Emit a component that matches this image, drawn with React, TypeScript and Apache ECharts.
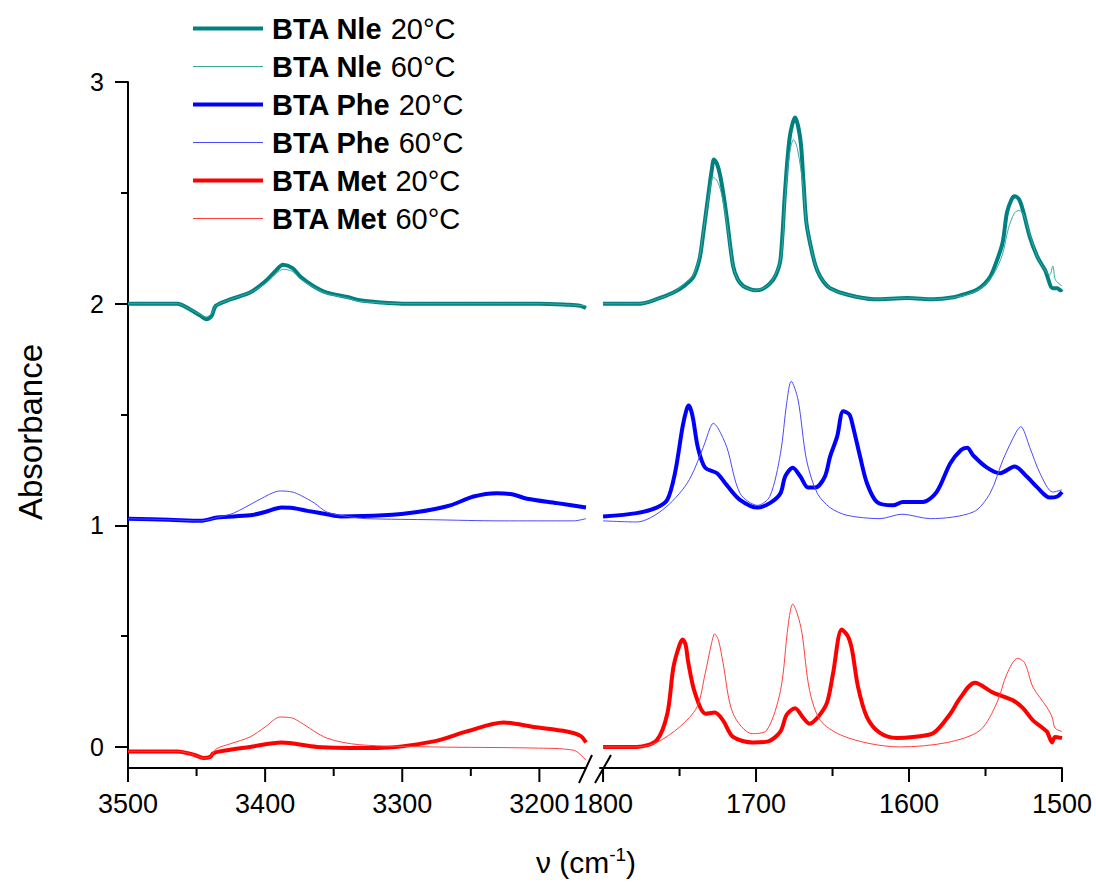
import React, { useEffect, useRef } from "react";
import * as echarts from "echarts";

// ---------- data: [wavenumber (cm-1), absorbance] ----------
const seriesNames = [
  "BTA Nle 20°C",
  "BTA Nle 60°C",
  "BTA Phe 20°C",
  "BTA Phe 60°C",
  "BTA Met 20°C",
  "BTA Met 60°C",
];

const nle20Left = [[3500,2.0],[3480,2.0],[3464,2.0],[3455,1.975],[3447,1.945],[3443,1.93],[3439,1.945],[3436,1.99],[3425,2.02],[3411,2.05],[3400,2.1],[3392,2.15],[3387,2.175],[3380,2.16],[3374,2.12],[3365,2.08],[3355,2.05],[3340,2.03],[3331,2.015],[3315,2.005],[3300,2.0],[3250,2.0],[3200,2.0],[3180,1.995],[3170,1.99],[3166,1.98]];
const nle60Left = [[3500,2.0],[3464,2.0],[3455,1.975],[3447,1.95],[3443,1.94],[3439,1.955],[3436,1.99],[3425,2.02],[3411,2.05],[3400,2.09],[3392,2.135],[3387,2.155],[3380,2.145],[3374,2.11],[3365,2.075],[3355,2.045],[3340,2.025],[3331,2.01],[3300,2.0],[3200,2.0],[3166,1.99]];
const nle20Right = [[1800,2.0],[1790,2.0],[1776,2.0],[1765,2.02],[1754,2.05],[1747,2.08],[1741,2.12],[1737,2.2],[1735,2.29],[1731,2.5],[1729,2.6],[1727.5,2.65],[1725.5,2.63],[1723.5,2.58],[1721,2.48],[1719,2.38],[1715,2.17],[1712,2.11],[1708.5,2.08],[1704,2.065],[1700.7,2.06],[1696,2.065],[1691,2.09],[1687,2.13],[1684,2.2],[1681,2.51],[1678,2.75],[1674.5,2.84],[1671,2.74],[1669,2.55],[1667,2.36],[1663,2.22],[1660,2.15],[1656,2.1],[1651.6,2.07],[1640,2.04],[1623,2.02],[1601,2.025],[1584,2.02],[1570,2.03],[1565,2.04],[1558,2.055],[1553,2.075],[1548,2.11],[1545,2.15],[1539,2.27],[1536,2.41],[1533,2.47],[1531,2.485],[1528,2.47],[1525.5,2.42],[1521,2.3],[1516,2.21],[1511,2.15],[1506,2.07],[1503,2.07],[1501,2.06],[1500,2.065]];
const nle60Right = [[1800,2.0],[1776,2.0],[1765,2.02],[1754,2.05],[1747,2.09],[1741,2.13],[1737,2.21],[1735,2.3],[1731,2.48],[1728,2.57],[1726,2.56],[1723.5,2.52],[1721,2.44],[1719,2.36],[1715,2.17],[1712,2.11],[1708.5,2.08],[1700.7,2.06],[1691,2.09],[1684,2.2],[1681,2.48],[1678,2.68],[1675.5,2.74],[1673,2.7],[1669,2.52],[1667,2.36],[1660,2.15],[1651.6,2.07],[1640,2.04],[1623,2.02],[1601,2.025],[1584,2.02],[1565,2.035],[1553,2.07],[1545,2.13],[1539,2.22],[1535,2.34],[1531,2.41],[1528,2.42],[1525,2.4],[1521,2.31],[1516,2.21],[1510,2.14],[1508,2.13],[1506,2.17],[1504.5,2.11],[1502,2.09],[1500,2.08]];

const phe20Left = [[3500,1.03],[3470,1.025],[3447,1.02],[3435,1.035],[3411,1.045],[3400,1.06],[3388,1.08],[3380,1.078],[3369,1.065],[3355,1.05],[3345,1.04],[3314,1.045],[3289,1.06],[3265,1.09],[3248,1.13],[3231,1.145],[3220,1.14],[3209,1.12],[3187,1.1],[3166,1.08]];
const phe60Left = [[3500,1.03],[3470,1.025],[3447,1.02],[3435,1.035],[3423,1.055],[3406,1.11],[3395,1.145],[3389,1.155],[3380,1.15],[3374,1.135],[3364,1.1],[3355,1.06],[3340,1.04],[3326,1.03],[3277,1.025],[3228,1.02],[3175,1.02],[3166,1.03]];
const phe20Right = [[1800,1.04],[1778,1.055],[1765,1.08],[1758,1.115],[1753,1.235],[1748,1.445],[1745.5,1.52],[1744,1.54],[1742.5,1.52],[1741,1.475],[1738,1.35],[1733.3,1.26],[1725.5,1.235],[1719,1.18],[1710.5,1.115],[1699,1.08],[1691,1.1],[1684,1.145],[1681,1.22],[1676,1.26],[1671,1.22],[1666,1.17],[1661.4,1.17],[1655,1.22],[1651.6,1.31],[1647,1.4],[1643,1.515],[1639,1.5],[1636.6,1.445],[1632,1.31],[1627.5,1.19],[1621,1.105],[1610.5,1.09],[1604,1.105],[1591,1.105],[1582,1.15],[1573,1.28],[1566,1.34],[1562,1.35],[1558,1.315],[1549,1.26],[1540.5,1.235],[1531,1.265],[1523,1.22],[1516,1.17],[1508,1.125],[1503,1.13],[1500,1.15]];
const phe60Right = [[1800,1.02],[1778,1.015],[1761,1.07],[1745,1.19],[1734.6,1.35],[1730,1.44],[1728,1.46],[1725,1.44],[1719,1.35],[1710.5,1.145],[1699,1.09],[1691,1.13],[1684,1.325],[1680,1.55],[1677,1.65],[1672.5,1.565],[1667,1.295],[1660,1.145],[1651.6,1.08],[1640.5,1.045],[1619,1.03],[1604.6,1.05],[1586,1.03],[1558,1.06],[1547,1.145],[1538.6,1.295],[1530,1.42],[1527,1.445],[1521,1.35],[1514.4,1.235],[1506,1.15],[1500,1.16]];

const met20Left = [[3500,-0.02],[3464,-0.02],[3452,-0.035],[3445,-0.05],[3440,-0.045],[3438,-0.03],[3433,-0.02],[3411,0.0],[3388,0.02],[3362,0.0],[3318,-0.005],[3277,0.025],[3253,0.07],[3226,0.11],[3204,0.09],[3180,0.07],[3170,0.05],[3166,0.02]];
const met60Left = [[3500,-0.02],[3464,-0.02],[3452,-0.035],[3445,-0.05],[3440,-0.045],[3436,-0.01],[3425,0.015],[3411,0.045],[3400,0.09],[3389,0.135],[3380,0.13],[3374,0.11],[3355,0.04],[3331,0.01],[3277,0.0],[3204,-0.005],[3175,-0.015],[3166,-0.06]];
const met20Right = [[1800,0.0],[1778,0.0],[1765,0.03],[1758,0.15],[1754,0.36],[1750,0.46],[1748,0.485],[1746,0.46],[1744.4,0.385],[1740,0.245],[1733,0.15],[1727,0.155],[1721.6,0.12],[1715,0.045],[1702,0.02],[1692,0.025],[1684,0.07],[1680,0.145],[1674.5,0.175],[1669,0.13],[1665,0.105],[1659.5,0.135],[1653.6,0.2],[1649.7,0.33],[1644,0.53],[1640,0.5],[1637.3,0.44],[1633.3,0.27],[1627.5,0.135],[1619,0.063],[1608,0.04],[1597.4,0.045],[1584,0.063],[1573,0.15],[1566.7,0.22],[1557,0.29],[1545,0.245],[1532,0.21],[1525.5,0.175],[1519,0.12],[1510,0.07],[1506.5,0.02],[1504.6,0.045],[1500,0.04]];
const met60Right = [[1800,0.0],[1778,0.0],[1765,0.02],[1750,0.09],[1738.6,0.18],[1733.3,0.33],[1729,0.47],[1727,0.51],[1724.5,0.48],[1721.6,0.38],[1715,0.15],[1702.6,0.06],[1693,0.075],[1684,0.255],[1679,0.55],[1676,0.645],[1673,0.6],[1670,0.515],[1665,0.255],[1658,0.12],[1645,0.055],[1625.5,0.015],[1606,0.0],[1575,0.02],[1553.6,0.075],[1542.5,0.2],[1536,0.33],[1529,0.4],[1525,0.385],[1522.7,0.35],[1519,0.27],[1510,0.18],[1506.5,0.135],[1504.5,0.085],[1500,0.07]];

const leftTicks = [3200, 3300, 3400, 3500];
const leftMinorTicks = [3250, 3350, 3450];
const rightTicks = [1500, 1600, 1700, 1800];
const rightMinorTicks = [1550, 1650, 1750];
const yTicks = [0, 1, 2, 3];
const yMinorTicks = [0.5, 1.5, 2.5];

const Y_MIN = -0.095;
const Y_MAX = 3;

const FONT = "'Liberation Sans', Arial, Helvetica, sans-serif";

const styles = [
  { color: "#008080", width: 4 },
  { color: "#3aa8a0", width: 1 },
  { color: "#0000ff", width: 4 },
  { color: "#4a4aff", width: 1 },
  { color: "#ff0000", width: 4 },
  { color: "#ff4040", width: 1 },
];

const leftData = [nle20Left, nle60Left, phe20Left, phe60Left, met20Left, met60Left];
const rightData = [nle20Right, nle60Right, phe20Right, phe60Right, met20Right, met60Right];

const LEFT_GRID = { left: 128, top: 82, width: 458, height: 686 };
const RIGHT_GRID = { left: 600, top: 82, width: 462, height: 686 };

export default function App() {
  const ref = useRef<HTMLDivElement>(null);
  useEffect(() => {
    if (!ref.current) return;
    const chart = echarts.init(ref.current, null, { renderer: "svg" });

    const mainX = (min: number, max: number, ticks: number[], grid: number) => ({
      type: "value",
      gridIndex: grid,
      position: "bottom",
      inverse: true,
      min,
      max,
      axisLine: { show: true, onZero: false, lineStyle: { color: "#000", width: 2 } },
      axisTick: { show: false },
      axisLabel: {
        show: true,
        customValues: ticks,
        fontSize: 27,
        color: "#000",
        fontFamily: FONT,
        margin: 22,
        formatter: (v: number) => String(v),
      },
      splitLine: { show: false },
    });

    const series: any[] = [];
    [0, 2, 4, 1, 3, 5].forEach((i) => {
      [0, 1].forEach((side) => {
        series.push({
          type: "line",
          name: seriesNames[i],
          xAxisIndex: side,
          yAxisIndex: side === 0 ? 0 : 2,
          data: side === 0 ? leftData[i] : rightData[i],
          showSymbol: false,
          symbol: "none",
          smooth: 0.3,
          color: styles[i].color,
          lineStyle: { color: styles[i].color, width: styles[i].width },
          z: styles[i].width === 1 ? 3 : 2,
        });
      });
    });

    // x-axis tick marks, placed through each x axis' own scale (api.coord)
    const tickSeries = (values: number[], xi: number, yi: number, len: number) => ({
      type: "custom",
      xAxisIndex: xi,
      yAxisIndex: yi,
      silent: true,
      clip: false,
      z: 5,
      data: values.map((v) => [v, Y_MIN]),
      encode: { x: 0, y: 1 },
      renderItem: (_params: any, api: any) => {
        const p = api.coord([api.value(0), Y_MIN]);
        return {
          type: "line",
          shape: { x1: p[0], y1: p[1], x2: p[0], y2: p[1] + len },
          style: { stroke: "#000", lineWidth: 2 },
        };
      },
    });
    series.push(tickSeries(leftTicks, 0, 0, 14));
    series.push(tickSeries(leftMinorTicks, 0, 0, 8));
    series.push(tickSeries(rightTicks, 1, 2, 14));
    series.push(tickSeries(rightMinorTicks, 1, 2, 8));

    chart.setOption({
      animation: false,
      backgroundColor: "#fff",
      grid: [LEFT_GRID, RIGHT_GRID],
      xAxis: [mainX(3166, 3500, leftTicks, 0), mainX(1500, 1802, rightTicks, 1)],
      yAxis: [
        {
          type: "value",
          gridIndex: 0,
          position: "left",
          min: Y_MIN,
          max: Y_MAX,
          axisLine: { show: true, onZero: false, lineStyle: { color: "#000", width: 2 } },
          axisTick: { show: true, customValues: yTicks, length: 13, lineStyle: { color: "#000", width: 2 } },
          axisLabel: { show: true, customValues: yTicks, fontSize: 25, color: "#000", fontFamily: FONT, margin: 24 },
          splitLine: { show: false },
        },
        {
          type: "value",
          gridIndex: 0,
          position: "left",
          offset: 0,
          min: Y_MIN,
          max: Y_MAX,
          axisLine: { show: false, onZero: false },
          axisTick: { show: true, customValues: yMinorTicks, length: 7, lineStyle: { color: "#000", width: 2 } },
          axisLabel: { show: false },
          splitLine: { show: false },
        },
        {
          type: "value",
          gridIndex: 1,
          min: Y_MIN,
          max: Y_MAX,
          show: false,
          splitLine: { show: false },
        },
      ],
      legend: {
        orient: "vertical",
        left: 188,
        top: 8,
        itemWidth: 70,
        itemHeight: 14,
        itemGap: 7,
        selectedMode: false,
        data: seriesNames.map((n, i) => ({
          name: n,
          icon: styles[i].width === 4 ? "path://M0,0H70V4H0Z" : "path://M0,0H70V1H0Z",
        })),
        formatter: (name: string) => {
          const k = name.lastIndexOf(" ");
          return `{b|${name.slice(0, k)}} ${name.slice(k + 1)}`;
        },
        textStyle: {
          fontSize: 29,
          fontFamily: FONT,
          color: "#000",
          lineHeight: 31,
          padding: [0, 0, 0, 4],
          rich: {
            b: { fontSize: 29, fontWeight: "bold", fontFamily: FONT, color: "#000", lineHeight: 31 },
          },
        },
      },
      graphic: [
        {
          type: "text",
          x: 30,
          y: 432,
          rotation: Math.PI / 2,
          style: {
            text: "Absorbance",
            fontSize: 33,
            fontFamily: FONT,
            fill: "#000",
            align: "center",
            verticalAlign: "middle",
          },
        },
        {
          type: "text",
          x: 586,
          y: 862,
          style: {
            text: "ν (cm{sup|-1})",
            fontSize: 30,
            fontFamily: FONT,
            fill: "#000",
            align: "center",
            verticalAlign: "middle",
            rich: {
              sup: { fontSize: 19, fontFamily: FONT, verticalAlign: "top", lineHeight: 34 },
            },
          },
        },
        { type: "line", shape: { x1: 579, y1: 783, x2: 592, y2: 755 }, style: { stroke: "#000", lineWidth: 2 } },
        { type: "line", shape: { x1: 595, y1: 783, x2: 611, y2: 755 }, style: { stroke: "#000", lineWidth: 2 } },
      ],
      series,
    });
    return () => chart.dispose();
  }, []);
  return (
    <div
      ref={ref}
      style={{ position: "fixed", left: 0, top: 0, width: 1096, height: 883, background: "#fff" }}
    />
  );
}
